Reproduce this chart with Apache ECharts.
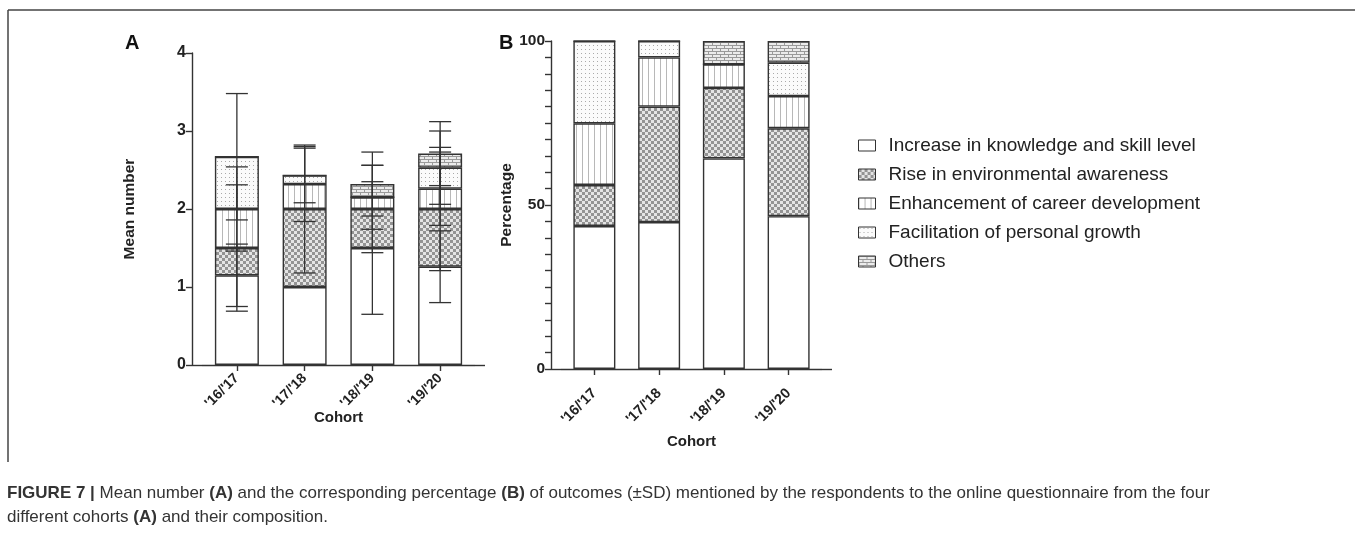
<!DOCTYPE html>
<html>
<head>
<meta charset="utf-8">
<script src="https://cdn.jsdelivr.net/npm/echarts@6/dist/echarts.min.js"></script>
<style>
  html, body { margin: 0; padding: 0; background: #fff; }
  #chart { width: 1355px; height: 535px; }
</style>
</head>
<body>
<div id="chart"></div>
<script>
// categories
var cohorts = ["'16/'17", "'17/'18", "'18/'19", "'19/'20"];
var outcomes = [
    'Increase in knowledge and skill level',
    'Rise in environmental awareness',
    'Enhancement of career development',
    'Facilitation of personal growth',
    'Others'
];

// A: mean number of outcomes per cohort (stack segments)
var meanKnowledge = [1.15, 1.00, 1.50, 1.26];
var meanAwareness = [0.35, 1.00, 0.50, 0.74];
var meanCareer = [0.50, 0.32, 0.15, 0.26];
var meanGrowth = [0.67, 0.11, 0, 0.27];
var meanOthers = [0, 0, 0.17, 0.18];

// A: SD of each segment
var sdKnowledge = [0.40, 0, 0.85, 0.46];
var sdAwareness = [0.81, 0.82, 0.56, 0.79];
var sdCareer = [0.54, 0.48, 0.41, 0.47];
var sdGrowth = [0.81, 0.35, 0, 0.47];
var sdOthers = [0, 0, 0.41, 0.41];

// B: percentage composition
var pctKnowledge = [43.6, 44.8, 64.2, 46.6];
var pctAwareness = [12.5, 35.2, 21.5, 26.8];
var pctCareer = [18.8, 15.0, 7.2, 9.8];
var pctGrowth = [25.1, 5.0, 0, 10.2];
var pctOthers = [0, 0, 7.1, 6.6];

var FONT = '"Liberation Sans", Arial, sans-serif';

// fill patterns
function makePattern(w, h, draw) {
    var c = document.createElement('canvas');
    c.width = w;
    c.height = h;
    draw(c.getContext('2d'));
    return { image: c, repeat: 'repeat' };
}
var patterns = [
    '#ffffff',
    makePattern(6, 6, function (ctx) {
        ctx.fillStyle = '#e4e4e4'; ctx.fillRect(0, 0, 6, 6);
        ctx.fillStyle = '#939393'; ctx.fillRect(0, 0, 3, 3); ctx.fillRect(3, 3, 3, 3);
    }),
    makePattern(6, 6, function (ctx) {
        ctx.fillStyle = '#ffffff'; ctx.fillRect(0, 0, 6, 6);
        ctx.fillStyle = '#b8b8b8'; ctx.fillRect(0, 0, 1, 6);
    }),
    makePattern(4, 4, function (ctx) {
        ctx.fillStyle = '#fbfbfb'; ctx.fillRect(0, 0, 4, 4);
        ctx.fillStyle = '#aaaaaa'; ctx.fillRect(1, 1, 1, 1);
    }),
    makePattern(8, 6, function (ctx) {
        ctx.fillStyle = '#ececec'; ctx.fillRect(0, 0, 8, 6);
        ctx.fillStyle = '#9a9a9a';
        ctx.fillRect(0, 0, 8, 1); ctx.fillRect(0, 3, 8, 1);
        ctx.fillRect(0, 0, 1, 3); ctx.fillRect(4, 3, 1, 3);
    })
];

var meanSets = [meanKnowledge, meanAwareness, meanCareer, meanGrowth, meanOthers];
var sdSets = [sdKnowledge, sdAwareness, sdCareer, sdGrowth, sdOthers];
var pctSets = [pctKnowledge, pctAwareness, pctCareer, pctGrowth, pctOthers];

// error bars at each segment's top (cumulative)
var errData = [];
cohorts.forEach(function (c, i) {
    var top = 0;
    meanSets.forEach(function (set, s) {
        top += set[i];
        if (set[i] > 0) {
            errData.push([i, top - sdSets[s][i], top + sdSets[s][i]]);
        }
    });
});

var chart = echarts.init(document.getElementById('chart'));

var series = [];
outcomes.forEach(function (name, s) {
    series.push({
        name: name,
        type: 'bar',
        stack: 'A',
        xAxisIndex: 0,
        yAxisIndex: 0,
        barWidth: 44,
        itemStyle: { color: patterns[s], borderColor: '#333', borderWidth: 1.4 },
        data: meanSets[s]
    });
});
outcomes.forEach(function (name, s) {
    series.push({
        name: name,
        type: 'bar',
        stack: 'B',
        xAxisIndex: 1,
        yAxisIndex: 1,
        barWidth: 42,
        itemStyle: { color: patterns[s], borderColor: '#333', borderWidth: 1.4 },
        data: pctSets[s]
    });
});
series.push({
    type: 'custom',
    xAxisIndex: 0,
    yAxisIndex: 0,
    z: 10,
    data: errData,
    renderItem: function (params, api) {
        var lo = api.coord([api.value(0), api.value(1)]);
        var hi = api.coord([api.value(0), api.value(2)]);
        var hw = 11;
        var style = { stroke: '#333', lineWidth: 1.3 };
        return {
            type: 'group',
            children: [
                { type: 'line', shape: { x1: lo[0], y1: lo[1], x2: hi[0], y2: hi[1] }, style: style },
                { type: 'line', shape: { x1: lo[0] - hw, y1: lo[1], x2: lo[0] + hw, y2: lo[1] }, style: style },
                { type: 'line', shape: { x1: hi[0] - hw, y1: hi[1], x2: hi[0] + hw, y2: hi[1] }, style: style }
            ]
        };
    }
});

var axisLine = { show: true, lineStyle: { color: '#333', width: 1.4 } };
var axisTick = { show: true, length: 6, lineStyle: { color: '#333', width: 1.4 } };

var option = {
    animation: false,
    backgroundColor: '#fff',
    textStyle: { fontFamily: FONT },
    title: [
        { text: 'A', left: 120, top: 28, textStyle: { fontFamily: FONT, fontSize: 20, fontWeight: 'bold', color: '#111' } },
        { text: 'B', left: 494, top: 28, textStyle: { fontFamily: FONT, fontSize: 20, fontWeight: 'bold', color: '#111' } },
        {
            text: '{b|FIGURE 7 |} Mean number {b|(A)} and the corresponding percentage {b|(B)} of outcomes (\u00b1SD) mentioned by the respondents to the online questionnaire from the four\ndifferent cohorts {b|(A)} and their composition.',
            left: 2,
            top: 476,
            textStyle: {
                fontFamily: FONT,
                fontSize: 17,
                fontWeight: 'normal',
                color: '#333',
                lineHeight: 24,
                rich: {
                    b: { fontFamily: FONT, fontSize: 17, fontWeight: 'bold', color: '#333', lineHeight: 24 }
                }
            }
        }
    ],
    legend: {
        orient: 'vertical',
        left: 853,
        top: 131,
        itemWidth: 17,
        itemHeight: 11,
        itemGap: 10,
        icon: 'rect',
        data: outcomes,
        itemStyle: { borderColor: '#333', borderWidth: 1 },
        textStyle: { fontFamily: FONT, fontSize: 19, color: '#222', padding: [0, 0, 0, 8] }
    },
    grid: [
        { left: 203, width: 271, top: 53, height: 312 },
        { left: 562, width: 259, top: 41, height: 328 }
    ],
    xAxis: [
        {
            type: 'category',
            gridIndex: 0,
            data: cohorts,
            axisLine: axisLine,
            axisTick: Object.assign({ alignWithLabel: true }, axisTick),
            axisLabel: { rotate: 45, margin: 11, fontFamily: FONT, fontSize: 14, fontWeight: 'bold', color: '#222' },
            name: 'Cohort',
            nameLocation: 'middle',
            nameGap: 45,
            nameMoveOverlap: false,
            nameTextStyle: { fontFamily: FONT, fontSize: 15, fontWeight: 'bold', color: '#222' }
        },
        {
            type: 'category',
            gridIndex: 1,
            data: cohorts,
            axisLine: axisLine,
            axisTick: Object.assign({ alignWithLabel: true }, axisTick),
            axisLabel: { rotate: 45, margin: 22, fontFamily: FONT, fontSize: 14.5, fontWeight: 'bold', color: '#222' },
            name: 'Cohort',
            nameLocation: 'middle',
            nameGap: 65,
            nameMoveOverlap: false,
            nameTextStyle: { fontFamily: FONT, fontSize: 15, fontWeight: 'bold', color: '#222' }
        }
    ],
    yAxis: [
        {
            type: 'value',
            gridIndex: 0,
            min: 0,
            max: 4,
            interval: 1,
            offset: 11,
            axisLine: axisLine,
            axisTick: axisTick,
            splitLine: { show: false },
            axisLabel: { fontFamily: FONT, fontSize: 16, fontWeight: 'bold', color: '#222', margin: 6 },
            name: 'Mean number',
            nameLocation: 'middle',
            nameGap: 54,
            nameMoveOverlap: false,
            nameTextStyle: { fontFamily: FONT, fontSize: 15.5, fontWeight: 'bold', color: '#222' }
        },
        {
            type: 'value',
            gridIndex: 1,
            min: 0,
            max: 100,
            interval: 5,
            offset: 11,
            axisLine: axisLine,
            axisTick: axisTick,
            splitLine: { show: false },
            axisLabel: {
                fontFamily: FONT, fontSize: 15.5, fontWeight: 'bold', color: '#222', margin: 6,
                formatter: function (v) { return v % 50 === 0 ? String(v) : ''; }
            },
            name: 'Percentage',
            nameLocation: 'middle',
            nameGap: 36,
            nameMoveOverlap: false,
            nameTextStyle: { fontFamily: FONT, fontSize: 15.5, fontWeight: 'bold', color: '#222' }
        }
    ],
    series: series
};
chart.setOption(option);

// frame lines and x-axis extension to meet the offset y-axes
function axisExt(gridIdx) {
    var p0 = chart.convertToPixel({ xAxisIndex: gridIdx, yAxisIndex: gridIdx }, [0, 0]);
    var g = option.grid[gridIdx];
    var y = Math.round(p0[1]) + 0.5;
    return [
        { type: 'line', shape: { x1: g.left - 11, y1: y, x2: g.left, y2: y }, style: { stroke: '#333', lineWidth: 1.4 } },
        { type: 'line', shape: { x1: g.left + g.width, y1: y, x2: g.left + g.width + 11, y2: y }, style: { stroke: '#333', lineWidth: 1.4 } }
    ];
}
chart.setOption({
    graphic: [
        { type: 'line', shape: { x1: 8, y1: 10, x2: 1355, y2: 10 }, style: { stroke: '#444', lineWidth: 1.5 } },
        { type: 'line', shape: { x1: 8, y1: 10, x2: 8, y2: 462 }, style: { stroke: '#444', lineWidth: 1.5 } }
    ].concat(axisExt(0), axisExt(1))
});
</script>
</body>
</html>
